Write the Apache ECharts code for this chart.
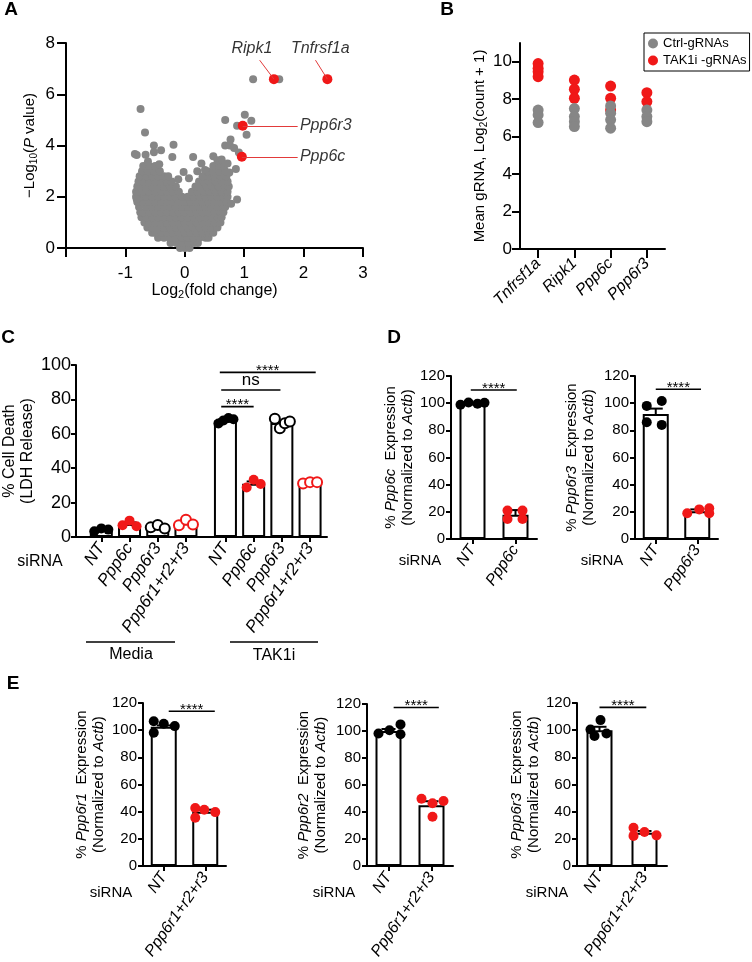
<!DOCTYPE html>
<html>
<head>
<meta charset="utf-8">
<script src="https://cdn.jsdelivr.net/npm/echarts@6/dist/echarts.min.js"></script>
<style>
  html, body { margin: 0; padding: 0; background: #fff; }
  #chart { width: 752px; height: 962px; }
</style>
</head>
<body>
<div id="chart"></div>
<script>
// ---------- A: volcano (log2 FC, -log10 P) ----------
// dense cloud, read row by row: [y, [x values]]
const volcanoRows = [
  [0.0, [-0.08, 0, 0.08]],
  [0.2, [-0.24, -0.14, -0.04, 0.06, 0.16, 0.22]],
  [0.4, [-0.45, -0.35, -0.25, -0.15, -0.05, 0.05, 0.15, 0.25, 0.35, 0.4]],
  [0.6, [-0.55, -0.5, -0.4, -0.3, -0.2, -0.1, 0, 0.1, 0.2, 0.3, 0.4, 0.48]],
  [0.8, [-0.63, -0.55, -0.45, -0.35, -0.25, -0.15, -0.05, 0.05, 0.15, 0.25, 0.35, 0.45, 0.55]],
  [1.0, [-0.68, -0.6, -0.5, -0.4, -0.3, -0.2, -0.1, 0, 0.1, 0.2, 0.3, 0.4, 0.5, 0.6]],
  [1.2, [-0.73, -0.65, -0.55, -0.45, -0.35, -0.25, -0.15, -0.05, 0.05, 0.15, 0.25, 0.35, 0.45, 0.55, 0.62]],
  [1.4, [-0.75, -0.7, -0.6, -0.5, -0.4, -0.3, -0.2, -0.1, 0, 0.1, 0.2, 0.3, 0.4, 0.5, 0.6, 0.65]],
  [1.6, [-0.77, -0.65, -0.55, -0.45, -0.35, -0.25, -0.15, -0.05, 0.05, 0.15, 0.25, 0.35, 0.45, 0.55, 0.65, 0.68]],
  [1.8, [-0.8, -0.7, -0.6, -0.5, -0.4, -0.3, -0.2, -0.1, 0, 0.1, 0.2, 0.3, 0.4, 0.5, 0.6, 0.7]],
  [2.0, [-0.82, -0.75, -0.65, -0.55, -0.45, -0.35, -0.25, -0.15, -0.05, 0.05, 0.15, 0.25, 0.35, 0.45, 0.55, 0.65, 0.72]],
  [2.2, [-0.82, -0.7, -0.6, -0.5, -0.4, -0.3, -0.2, -0.1, 0.12, 0.22, 0.32, 0.42, 0.52, 0.62, 0.72]],
  [2.4, [-0.8, -0.75, -0.65, -0.55, -0.45, -0.35, -0.25, -0.15, 0.18, 0.27, 0.37, 0.47, 0.57, 0.67, 0.74]],
  [2.6, [-0.78, -0.7, -0.6, -0.5, -0.4, -0.3, -0.22, 0.24, 0.32, 0.42, 0.52, 0.62, 0.72]],
  [2.8, [-0.76, -0.65, -0.55, -0.45, -0.35, -0.28, 0.3, 0.4, 0.5, 0.6, 0.7]],
  [3.0, [-0.72, -0.62, -0.52, -0.42, 0.38, 0.48, 0.58, 0.68]],
  [3.2, [-0.7, -0.6, -0.5, 0.48, 0.58, 0.66]]
];
const volcanoSparse = [
  [-0.745, 5.42], [-0.67, 4.51], [-0.84, 3.67], [-0.81, 3.63], [-0.66, 3.64], [-0.52, 4.0],
  [-0.40, 3.81], [-0.52, 3.74], [-0.43, 3.27], [-0.19, 4.03], [-0.21, 3.55], [0.14, 3.55],
  [0.28, 3.3], [0.34, 3.04], [-0.02, 2.97], [-0.11, 2.68], [0.07, 2.72], [0.21, 3.0],
  [0.48, 3.58], [0.68, 5.0], [1.01, 5.2], [1.12, 4.97], [0.88, 4.77], [1.04, 4.42],
  [0.77, 4.23], [0.68, 4.0], [0.76, 4.0], [0.83, 3.9], [0.91, 3.73], [1.15, 6.59],
  [1.59, 6.59], [0.86, 3.08], [0.88, 1.89], [0.78, 1.73], [-0.81, 1.91], [-0.62, 3.38],
  [0.55, 3.42], [0.62, 3.45], [0.72, 3.3], [0.75, 2.95]
];
const hitNames = ['Ripk1', 'Tnfrsf1a', 'Ppp6r3', 'Ppp6c'];
const hitFC = [1.5, 2.4, 0.975, 0.96];
const hitP = [6.59, 6.59, 4.77, 3.56];

// ---------- B: mean gRNA counts ----------
const bGenes = ['Tnfrsf1a', 'Ripk1', 'Ppp6c', 'Ppp6r3'];
const bCtrl = [[7.42, 7.16, 6.75], [7.5, 7.07, 6.8, 6.54], [7.64, 7.25, 6.9, 6.45], [7.42, 7.07, 6.8]];
const bTak = [[9.9, 9.65, 9.47, 9.2], [9.02, 8.53, 8.05], [8.7, 8.05, 7.42], [8.35, 7.87]];

// ---------- C: LDH release ----------
const cLabels = ['NT', 'Ppp6c', 'Ppp6r3', 'Ppp6r1+r2+r3', 'NT', 'Ppp6c', 'Ppp6r3', 'Ppp6r1+r2+r3'];
const cMeans = [4.2, 7.5, 5.9, 8.0, 67.8, 31.0, 66.3, 31.6];
const cSem = [0.5, 1.0, 0.6, 1.0, 0.8, 1.3, 1.2, 0.3];
const cPoints = [
  [3.3, 5.0, 4.3], [6.8, 9.5, 6.2], [5.6, 7.0, 5.0], [6.8, 10.0, 7.2],
  [66.0, 67.8, 69.2, 68.5], [28.8, 33.3, 30.8], [68.7, 63.2, 66.2, 67.1], [31.1, 31.9, 31.9]
];

// ---------- D: knockdown efficiency ----------
const d1Labels = ['NT', 'Ppp6c'];
const d1Means = [99.8, 17.8];
const d1Sem = [0.6, 3.5];
const d1Points = [[98.8, 100.5, 99.6, 100.3], [20.9, 20.9, 14.7, 14.7]];
const d2Labels = ['NT', 'Ppp6r3'];
const d2Means = [92.0, 20.5];
const d2Sem = [4.0, 1.3];
const d2Points = [[98.0, 101.6, 86.0, 84.0], [18.9, 21.8, 22.6, 18.9]];

// ---------- E: Ppp6r1/r2/r3 knockdown ----------
const eLabels = ['NT', 'Ppp6r1+r2+r3'];
const e1Means = [102.5, 40.0];
const e1Sem = [1.0, 1.5];
const e1Points = [[106.6, 98.1, 104.7, 103.0], [42.8, 41.4, 39.7, 35.5]];
const e2Means = [100.0, 45.0];
const e2Sem = [1.5, 3.0];
const e2Points = [[98.1, 100.5, 104.9, 97.6], [49.9, 46.5, 48.2, 36.5]];
const e3Means = [100.0, 24.5];
const e3Sem = [2.5, 1.3];
const e3Points = [[100.5, 107.4, 95.7, 97.6], [28.2, 25.1, 22.6, 22.2]];

// ---------- styling ----------
const FONT = 'Liberation Sans, Arial, sans-serif';
const RED = '#f01818';
const GRAY = '#868686';

const chart = echarts.init(document.getElementById('chart'));

const grids = [
  { left: 66, top: 43, width: 297, height: 205 },   // 0 A
  { left: 520, top: 43, width: 145, height: 206 },  // 1 B
  { left: 69, top: 365, width: 258, height: 172 },  // 2 C
  { left: 451, top: 376, width: 86, height: 163 },  // 3 D1
  { left: 635, top: 376, width: 83, height: 163 },  // 4 D2
  { left: 143, top: 703, width: 83, height: 165 },  // 5 E1
  { left: 367, top: 704, width: 86, height: 164 },  // 6 E2
  { left: 577, top: 703, width: 90, height: 165 }   // 7 E3
];

const lineStyle = { color: '#000', width: 2 };
function ticks(len) {
  return { show: true, length: len, lineStyle: { color: '#000', width: 2 } };
}
function lbl(size, margin, extra) {
  return Object.assign({ color: '#000', fontSize: size, fontFamily: FONT, margin: margin }, extra || {});
}

function yAxis(gi, min, max, step, name, nameGap, fs, tickLen, margin, extra) {
  return Object.assign({
    type: 'value', gridIndex: gi, min: min, max: max, interval: step,
    axisLine: { show: true, onZero: false, lineStyle: lineStyle },
    axisTick: ticks(tickLen),
    axisLabel: lbl(fs, margin),
    splitLine: { show: false },
    name: name, nameLocation: 'middle', nameGap: nameGap,
    nameTextStyle: { color: '#000', fontSize: 15, fontFamily: FONT, lineHeight: 17 }
  }, extra || {});
}

function xAxisPos(gi, labels, pos, min, max, fs, margin) {
  return {
    type: 'value', gridIndex: gi, min: min, max: max,
    axisLine: { show: true, onZero: false, lineStyle: lineStyle },
    axisTick: Object.assign({ customValues: pos }, ticks(5)),
    axisLabel: lbl(fs, margin, {
      customValues: pos, rotate: 55, fontStyle: 'italic',
      formatter: function (v) {
        const i = pos.findIndex(p => Math.abs(p - v) < 1e-6);
        return i < 0 ? '' : labels[i];
      }
    }),
    splitLine: { show: false }
  };
}

function exprName(gene) {
  return {
    text: '{n|% }{i|' + gene + '}{n|  Expression}\n{n|(Normalized to }{i|Actb}{n|)}',
    style: {
      color: '#000', fontFamily: FONT, fontSize: 15, lineHeight: 17,
      rich: {
        n: { fontSize: 15, fontFamily: FONT, color: '#000', lineHeight: 17 },
        i: { fontSize: 15, fontFamily: FONT, color: '#000', fontStyle: 'italic', lineHeight: 17 }
      }
    }
  };
}

function errRender(params, api) {
  const x = api.value(0), m = api.value(1), e = api.value(2);
  const t = api.coord([x, m + e]), b = api.coord([x, m - e]);
  const w = 7;
  const st = { stroke: '#000', lineWidth: 2 };
  return {
    type: 'group', children: [
      { type: 'line', shape: { x1: t[0], y1: t[1], x2: b[0], y2: b[1] }, style: st },
      { type: 'line', shape: { x1: t[0] - w, y1: t[1], x2: t[0] + w, y2: t[1] }, style: st },
      { type: 'line', shape: { x1: b[0] - w, y1: b[1], x2: b[0] + w, y2: b[1] }, style: st }
    ]
  };
}

function bracketSeries(gi, brackets) {
  return {
    type: 'custom', xAxisIndex: gi, yAxisIndex: gi, silent: true, z: 5,
    data: brackets.map(b => [b[0], b[1], b[2]]),
    encode: { x: [0, 1], y: 2 },
    renderItem: function (params, api) {
      const a = api.coord([api.value(0), api.value(2)]);
      const b = api.coord([api.value(1), api.value(2)]);
      const txt = brackets[params.dataIndex][3];
      return {
        type: 'group', children: [
          { type: 'line', shape: { x1: a[0], y1: a[1], x2: b[0], y2: b[1] }, style: { stroke: '#000', lineWidth: 1.6 } },
          {
            type: 'text', x: (a[0] + b[0]) / 2, y: txt === 'ns' ? a[1] - 1 : a[1] + 6,
            style: { text: txt, textAlign: 'center', textVerticalAlign: 'bottom', fontSize: txt === 'ns' ? 17 : 15, fontFamily: FONT, fill: '#000' }
          }
        ]
      };
    }
  };
}

// bar + dots + error bars for one panel
function barPanel(gi, pos, means, sem, points, colors, open, jitter, barWidth) {
  const dots = [];
  points.forEach((grp, i) => {
    const jit = jitter[i] || jitter[0];
    grp.forEach((v, k) => {
      dots.push({
        value: [pos[i], v],
        symbolOffset: [jit[k] || 0, 0],
        itemStyle: open[i]
          ? { color: '#fff', borderColor: colors[i], borderWidth: 2, opacity: 1 }
          : { color: colors[i], borderColor: colors[i], borderWidth: 0, opacity: 1 }
      });
    });
  });
  return [
    {
      type: 'bar', xAxisIndex: gi, yAxisIndex: gi, barWidth: barWidth, silent: true,
      data: pos.map((p, i) => [p, means[i]]),
      itemStyle: { color: '#fff', borderColor: '#000', borderWidth: 2 }
    },
    {
      type: 'scatter', xAxisIndex: gi, yAxisIndex: gi, symbol: 'circle', symbolSize: 10, silent: true,
      data: dots
    },
    {
      type: 'custom', xAxisIndex: gi, yAxisIndex: gi, silent: true,
      data: pos.map((p, i) => [p, means[i], sem[i]]),
      encode: { x: 0, y: 1 },
      renderItem: errRender
    }
  ];
}

// ---------- A series ----------
const volcanoData = [];
volcanoRows.forEach(r => r[1].forEach(x => volcanoData.push([x, r[0]])));
volcanoSparse.forEach(p => volcanoData.push(p));

// label anchors / leader-line ends for the highlighted genes
const hitLabelAt = [[1.13, 7.8], [2.28, 7.8], [1.93, 4.77], [1.93, 3.56]];
const hitLineEnd = [[1.26, 7.33], [2.2, 7.33], [1.9, 4.77], [1.9, 3.56]];

const seriesA = [
  {
    type: 'scatter', xAxisIndex: 0, yAxisIndex: 0, symbolSize: 8, silent: true,
    itemStyle: { color: GRAY, opacity: 1 }, data: volcanoData
  },
  {
    type: 'scatter', xAxisIndex: 0, yAxisIndex: 0, symbolSize: 10, silent: true,
    itemStyle: { color: RED, opacity: 1 }, z: 4,
    data: hitFC.map((x, i) => [x, hitP[i]]),
    markLine: {
      silent: true, symbol: 'none', animation: false,
      lineStyle: { color: '#e23a3a', width: 1, type: 'solid' },
      label: { show: false },
      data: hitFC.map((x, i) => [{ coord: [x, hitP[i]] }, { coord: hitLineEnd[i] }])
    }
  },
  {
    type: 'scatter', xAxisIndex: 0, yAxisIndex: 0, symbolSize: 1, silent: true,
    itemStyle: { color: 'rgba(0,0,0,0)' },
    data: hitNames.map((n, i) => ({
      value: hitLabelAt[i], name: n,
      label: { position: i < 2 ? 'inside' : 'right', distance: 0 }
    })),
    label: {
      show: true, formatter: '{b}', color: '#000', fontSize: 16,
      fontStyle: 'italic', fontFamily: FONT
    }
  }
];

// ---------- B series ----------
function stripData(groups) {
  const out = [];
  groups.forEach((g, i) => g.forEach(v => out.push([i, v])));
  return out;
}
const seriesB = [
  {
    name: 'TAK1i -gRNAs', type: 'scatter', xAxisIndex: 1, yAxisIndex: 1, symbolSize: 11,
    itemStyle: { color: RED, opacity: 1 }, data: stripData(bTak), silent: true
  },
  {
    name: 'Ctrl-gRNAs', type: 'scatter', xAxisIndex: 1, yAxisIndex: 1, symbolSize: 11,
    itemStyle: { color: GRAY, opacity: 1 }, data: stripData(bCtrl), silent: true
  }
];

// ---------- C / D / E series ----------
const cPos = [1, 2, 3, 4, 5.4, 6.4, 7.4, 8.4];
const cColors = ['#000', RED, '#000', RED, '#000', RED, '#000', RED];
const cOpen = [false, false, true, true, false, false, true, true];
const cJitter = cPoints.map(g => g.length === 3 ? [-7, 0, 7] : [-7, -2, 3, 8]);
const cBrackets = [[5.25, 6.4, 75.8, '****'], [5.25, 7.35, 85.5, 'ns'], [5.2, 8.6, 95.7, '****']];

const p2 = [1, 2];
const twoColors = ['#000', RED];
const twoOpen = [false, false];

const series = [].concat(
  seriesA,
  seriesB,
  barPanel(2, cPos, cMeans, cSem, cPoints, cColors, cOpen, cJitter, 23),
  bracketSeries(2, cBrackets),
  barPanel(3, p2, d1Means, d1Sem, d1Points, twoColors, twoOpen, [[-12, -4, 5, 12], [-8, 7, -8, 7]], 26),
  bracketSeries(3, [[0.96, 2.03, 109.7, '****']]),
  barPanel(4, p2, d2Means, d2Sem, d2Points, twoColors, twoOpen, [[-9, 6, -9, 6], [-10, 2, 12, 12]], 26),
  bracketSeries(4, [[1.0, 2.09, 110.2, '****']]),
  barPanel(5, p2, e1Means, e1Sem, e1Points, twoColors, twoOpen, [[-10, -10, 0, 11], [-10, -1, 10, -10]], 26),
  bracketSeries(5, [[1.12, 2.23, 113.9, '****']]),
  barPanel(6, p2, e2Means, e2Sem, e2Points, twoColors, twoOpen, [[-10, 1, 12, 12], [-10, 1, 12, 1]], 26),
  bracketSeries(6, [[1.12, 2.17, 117.4, '****']]),
  barPanel(7, p2, e3Means, e3Sem, e3Points, twoColors, twoOpen, [[-9, 1, -5, 7], [-11, 0, 12, -11]], 26),
  bracketSeries(7, [[1.0, 2.04, 116.8, '****']])
);

// ---------- axes ----------
const subRich = {
  n: { fontSize: 15, fontFamily: FONT, color: '#000' },
  s: { fontSize: 10, fontFamily: FONT, color: '#000', padding: [8, 0, 0, 0] },
  i: { fontSize: 15, fontFamily: FONT, color: '#000', fontStyle: 'italic' }
};
const subRich16 = {
  n: { fontSize: 16, fontFamily: FONT, color: '#000' },
  s: { fontSize: 11, fontFamily: FONT, color: '#000', padding: [8, 0, 0, 0] },
  i: { fontSize: 16, fontFamily: FONT, color: '#000', fontStyle: 'italic' }
};

const xAxes = [
  {
    type: 'value', gridIndex: 0, min: -2, max: 3, interval: 1,
    axisLine: { show: true, onZero: false, lineStyle: lineStyle },
    axisTick: ticks(9),
    axisLabel: lbl(17, 17, { formatter: v => (v === -2 ? '' : String(v)) }),
    splitLine: { show: false },
    name: '{n|Log}{s|2}{n|(fold change)}', nameLocation: 'middle', nameGap: 30,
    nameTextStyle: { rich: subRich16 }
  },
  {
    type: 'category', gridIndex: 1, data: bGenes,
    axisLine: { show: true, onZero: false, lineStyle: lineStyle },
    axisTick: Object.assign({ alignWithLabel: true }, ticks(9)),
    axisLabel: lbl(16, 12, { rotate: 45, fontStyle: 'italic', interval: 0 })
  },
  xAxisPos(2, cLabels, cPos, 0.1, 9.0, 17, 8),
  xAxisPos(3, d1Labels, p2, 0.5, 2.5, 16, 8),
  xAxisPos(4, d2Labels, p2, 0.5, 2.5, 16, 8),
  xAxisPos(5, eLabels, p2, 0.5, 2.5, 16, 8),
  xAxisPos(6, eLabels, p2, 0.5, 2.5, 16, 8),
  xAxisPos(7, eLabels, p2, 0.5, 2.5, 16, 8)
];

const bTicks = [0, 2, 4, 6, 8, 10];
const yAxes = [
  yAxis(0, 0, 8, 2, '{n|\u2212Log}{s|10}{n|(}{i|P}{n| value)}', 27, 17, 9, 11, {
    nameTextStyle: { rich: subRich }
  }),
  yAxis(1, 0, 11, 2, '{n|Mean gRNA, Log}{s|2}{n|(count + 1)}', 31, 17, 8, 8, {
    axisTick: Object.assign({ customValues: bTicks }, ticks(8)),
    axisLabel: lbl(17, 8, { customValues: bTicks }),
    nameTextStyle: { rich: subRich }
  }),
  yAxis(2, 0, 100, 20, '% Cell Death\n(LDH Release)', 30, 18, 5, 5, {
    nameTextStyle: { color: '#000', fontSize: 16, fontFamily: FONT, lineHeight: 18 }
  }),
  yAxis(3, 0, 120, 20, exprName('Ppp6c').text, 34, 15, 5, 6, { nameTextStyle: exprName('Ppp6c').style }),
  yAxis(4, 0, 120, 20, exprName('Ppp6r3').text, 38, 15, 5, 6, { nameTextStyle: exprName('Ppp6r3').style }),
  yAxis(5, 0, 120, 20, exprName('Ppp6r1').text, 36, 15, 5, 6, { nameTextStyle: exprName('Ppp6r1').style }),
  yAxis(6, 0, 120, 20, exprName('Ppp6r2').text, 38, 15, 5, 6, { nameTextStyle: exprName('Ppp6r2').style }),
  yAxis(7, 0, 120, 20, exprName('Ppp6r3').text, 34, 15, 5, 6, { nameTextStyle: exprName('Ppp6r3').style })
];

// ---------- free text (panel letters, siRNA, group bars) ----------
function txt(x, y, s, extra) {
  return {
    type: 'text', x: x, y: y, silent: true,
    style: Object.assign({ text: s, fontSize: 15, fontFamily: FONT, fill: '#000', textAlign: 'center', textVerticalAlign: 'middle' }, extra || {})
  };
}
const letter = { fontSize: 19, fontWeight: 'bold' };
const graphics = [
  txt(11, 10, 'A', letter), txt(447, 10, 'B', letter), txt(8, 338, 'C', letter),
  txt(394, 338, 'D', letter), txt(13, 684, 'E', letter),
  txt(40, 562, 'siRNA', { fontSize: 16 }), txt(420, 561, 'siRNA'), txt(602, 561, 'siRNA'),
  txt(111, 893, 'siRNA'), txt(334, 893, 'siRNA'), txt(547, 893, 'siRNA'),
  { type: 'line', silent: true, shape: { x1: 86, y1: 642, x2: 175, y2: 642 }, style: { stroke: '#000', lineWidth: 1.5 } },
  { type: 'line', silent: true, shape: { x1: 230, y1: 642, x2: 318, y2: 642 }, style: { stroke: '#000', lineWidth: 1.5 } },
  txt(131, 655, 'Media', { fontSize: 16 }), txt(274, 656, 'TAK1i', { fontSize: 16 })
];

chart.setOption({
  animation: false,
  backgroundColor: '#fff',
  textStyle: { fontFamily: FONT },
  grid: grids,
  xAxis: xAxes,
  yAxis: yAxes,
  legend: {
    data: ['Ctrl-gRNAs', 'TAK1i -gRNAs'],
    orient: 'vertical', left: 644, top: 33,
    borderColor: '#000', borderWidth: 1, padding: [4, 3, 4, 4],
    itemGap: 4, itemWidth: 10, itemHeight: 10, icon: 'circle',
    textStyle: { color: '#000', fontSize: 13, fontFamily: FONT },
    selectedMode: false
  },
  graphic: graphics,
  series: series
});
</script>
</body>
</html>
